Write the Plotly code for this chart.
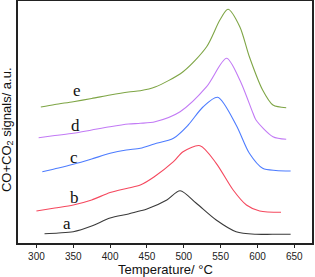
import plotly.graph_objects as go

# Temperature (°C) and signal (a.u.) for each curve
a_T = [311, 330, 350, 375, 400, 425, 440, 450, 477, 495, 517, 544, 571, 598, 620, 645]
a_v = [9.3, 10, 11.3, 17, 25, 29, 32, 34, 43, 52.3, 39.7, 23, 11.3, 8.7, 8.7, 8.7]

b_T = [300, 325, 350, 375, 400, 425, 441, 460, 486, 499, 522, 544, 567, 585, 603, 632]
b_v = [32, 35, 38, 43, 50.5, 55, 58, 66.3, 81.3, 91.3, 97.3, 79.7, 53, 38, 32, 30.7]

c_T = [308, 330, 350, 375, 400, 422, 441, 460, 486, 506, 526, 546, 571, 589, 607, 625, 645]
c_v = [71.3, 75, 78.7, 84, 89.7, 93, 94.7, 99, 104.7, 118, 136, 145.7, 118, 89.7, 74.7, 72.5, 72]

d_T = [303, 325, 350, 375, 400, 425, 441, 461, 495, 531, 558, 576, 594, 598, 621, 639]
d_v = [105.3, 107.5, 109.7, 113, 116.3, 119, 119.7, 121.3, 131.3, 156.3, 184.7, 163, 129.7, 123, 106.3, 103.7]

e_T = [306, 325, 350, 375, 400, 425, 441, 461, 499, 531, 549, 560, 576, 589, 607, 621, 639]
e_v = [136, 138.5, 141.3, 144.5, 148, 151, 152.3, 156, 171.3, 196.3, 223, 233.7, 216.3, 186.3, 153, 138, 135.3]

series = [
    ("a", a_T, a_v, "#3a3a3a"),
    ("b", b_T, b_v, "#f5485e"),
    ("c", c_T, c_v, "#4d7cff"),
    ("d", d_T, d_v, "#c27af5"),
    ("e", e_T, e_v, "#7ea545"),
]

# curve label positions (T, signal)
label_names = ["a", "b", "c", "d", "e"]
label_T = [342, 351, 351, 353, 355]
label_v = [19.7, 45.3, 85.3, 118, 152.3]

x_ticks = [300, 350, 400, 450, 500, 550, 600, 650]

fig = go.Figure()
for name, T, v, col in series:
    fig.add_trace(go.Scatter(x=T, y=v, mode="lines", name=name,
                             line=dict(color=col, width=1.1, shape="spline", smoothing=0.8),
                             showlegend=False, hoverinfo="skip"))

for n, t, v in zip(label_names, label_T, label_v):
    fig.add_annotation(x=t, y=v, text=n, showarrow=False,
                       font=dict(family="Liberation Serif", size=17, color="#111111"))

fig.add_annotation(xref="paper", yref="paper", x=-0.038, y=0.47,
                   text="CO+CO<sub>2</sub> signals/ a.u.", textangle=-90, showarrow=False,
                   xanchor="center", yanchor="middle",
                   font=dict(family="Liberation Sans", size=13, color="#111111"))

fig.add_annotation(xref="paper", yref="paper", x=0.5, y=-0.1446,
                   text="Temperature/ °C", showarrow=False,
                   xanchor="center", yanchor="bottom", borderpad=0,
                   font=dict(family="Liberation Sans", size=13, color="#111111"))

fig.update_layout(
    template="none",
    width=315, height=277,
    margin=dict(l=18, r=3, t=1, b=34),
    paper_bgcolor="white", plot_bgcolor="white",
    xaxis=dict(range=[275, 674], tickvals=x_ticks, ticks="outside", ticklen=3,
               tickwidth=1, tickcolor="#222222", automargin=False,
               showline=True, mirror=True, linecolor="#222222", linewidth=1.5,
               showgrid=False, zeroline=False,
               tickfont=dict(family="Liberation Sans", size=10, color="#222222")),
    yaxis=dict(range=[0, 242], showticklabels=False, ticks="", automargin=False,
               showline=True, mirror=True, linecolor="#222222", linewidth=1.5,
               showgrid=False, zeroline=False),
)

fig.write_html("out.html", config={"displayModeBar": False},
               post_script="document.body.style.margin='0';")
